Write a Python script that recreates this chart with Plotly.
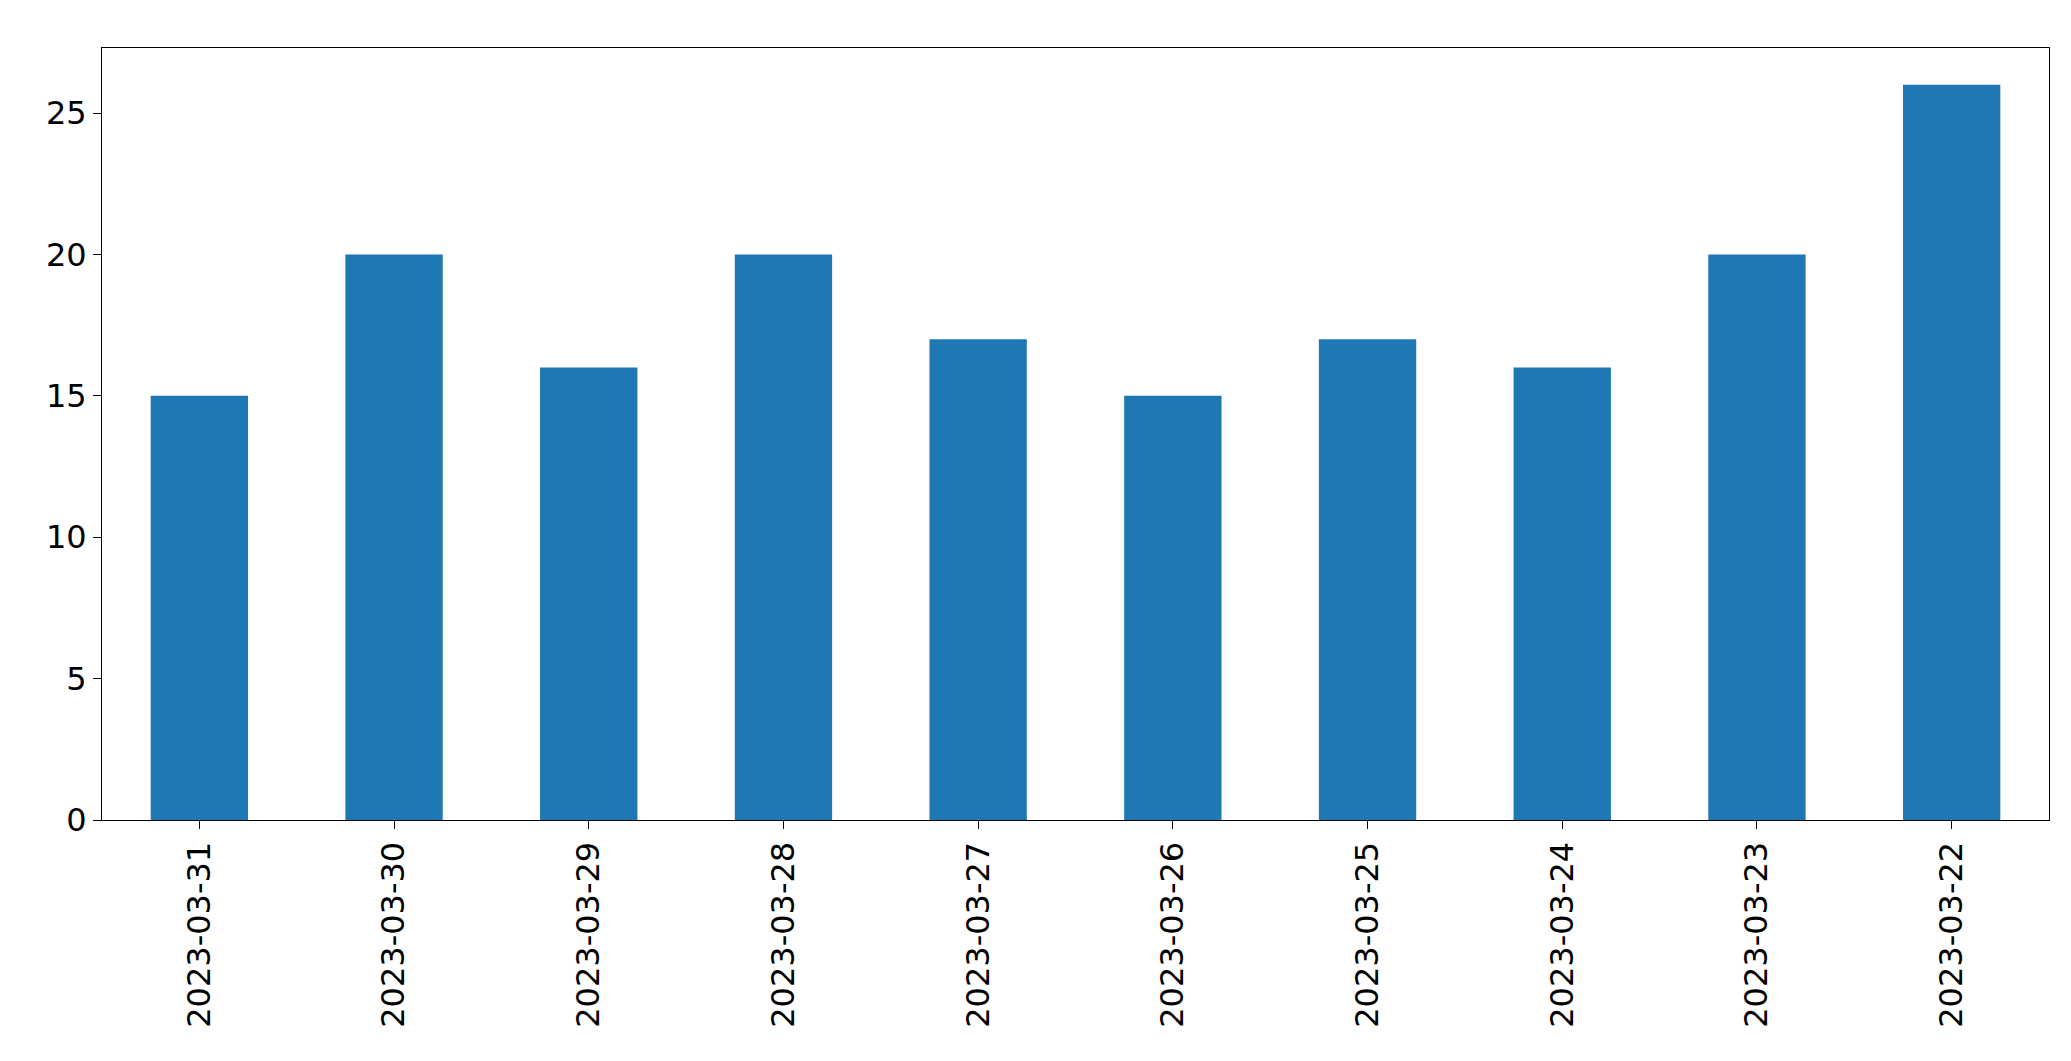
import plotly.graph_objects as go

dates = ['2023-03-31', '2023-03-30', '2023-03-29', '2023-03-28', '2023-03-27',
         '2023-03-26', '2023-03-25', '2023-03-24', '2023-03-23', '2023-03-22']
counts = [15, 20, 16, 20, 17, 15, 17, 16, 20, 26]

fig = go.Figure(go.Bar(x=dates, y=counts, marker_color='#1f77b4', marker_line_width=0, width=0.5))

fig.update_layout(
    width=2071, height=1061,
    plot_bgcolor='white', paper_bgcolor='white',
    margin=dict(l=94, r=30, t=40, b=249),
    font=dict(family='DejaVu Sans', size=32, color='black'),
    showlegend=False,
)
fig.update_xaxes(type='category', range=[-0.5, 9.5], tickangle=-90,
                 showline=True, linecolor='black', mirror=True,
                 ticks='outside', ticklen=8, tickcolor='black', showgrid=False)
fig.update_yaxes(range=[0, 27.3], dtick=5, showline=True, linecolor='black', mirror=True,
                 ticks='outside', ticklen=8, tickcolor='black', showgrid=False, zeroline=False)

fig.write_html("out.html")
